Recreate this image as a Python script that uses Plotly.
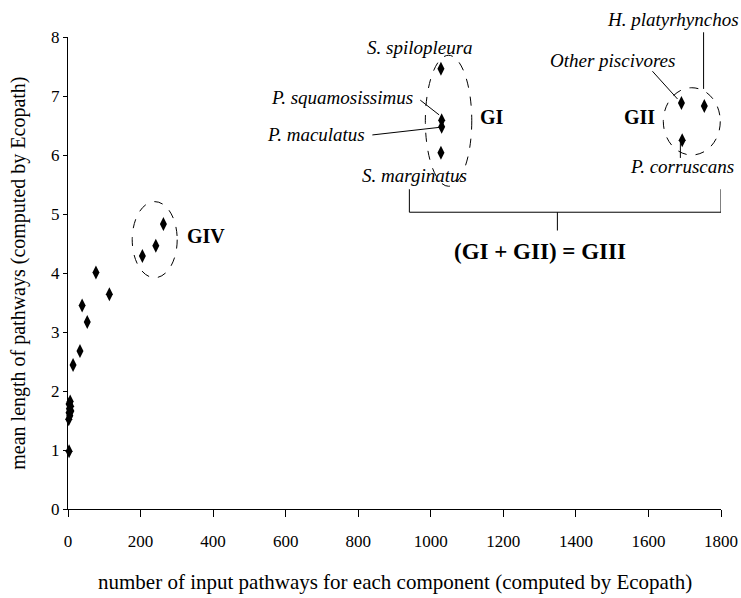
import plotly.graph_objects as go

# ---- data ----
input_pathways = [3, 2, 5, 3, 8, 4, 7, 3, 6, 14, 33, 39, 53, 77, 114, 205, 242, 263,
                  1028, 1030, 1030, 1028, 1691, 1754, 1693]
mean_length = [0.98, 1.52, 1.58, 1.63, 1.66, 1.70, 1.74, 1.78, 1.82, 2.44, 2.68, 3.45,
               3.17, 4.01, 3.64, 4.29, 4.46, 4.83,
               7.46, 6.59, 6.48, 6.04, 6.88, 6.83, 6.25]

x_ticks = [0, 200, 400, 600, 800, 1000, 1200, 1400, 1600, 1800]
y_ticks = [0, 1, 2, 3, 4, 5, 6, 7, 8]

x_title = "number of input pathways for each component (computed by Ecopath)"
y_title = "mean length of pathways (computed by Ecopath)"

# species labels: (text, x, y, xanchor)
species_labels = [
    ("Other piscivores", 1324, 7.61, "left"),
    ("S. spilopleura", 819, 7.83, "left"),
    ("P. squamosissimus", 957, 6.98, "right"),
    ("P. maculatus", 825, 6.34, "right"),
    ("S. marginatus", 806, 5.66, "left"),
    ("P. corruscans", 1545, 5.81, "left"),
]
top_label = ("H. platyrhynchos", 1479, 8.29)
group_labels = [
    ("GI", 1131, 6.64, "left", 20),
    ("GII", 1528, 6.64, "left", 20),
    ("GIV", 323, 4.63, "left", 20),
    ("(GI + GII) = GIII", 1302, 4.37, "center", 23),
]
# dashed group ellipses: x0, x1, y0, y1
group_ellipses = [
    (177, 301, 3.92, 5.21),
    (985, 1113, 5.47, 7.69),
    (1641, 1798, 6.0, 7.14),
]
# leader lines: x0, y0, x1, y1
leader_lines = [
    (971, 6.93, 1023, 6.68),
    (839, 6.34, 1026, 6.47),
    (1611, 7.42, 1680, 6.95),
    (1752, 8.0, 1752, 7.12),
    (1688, 6.20, 1688, 5.95),
    # bracket GI + GII = GIII
    (941, 5.42, 941, 5.03),
    (941, 5.03, 1800, 5.03),
    (1800, 5.03, 1800, 5.42),
    (1349, 5.03, 1349, 4.72),
]

SERIF = "Liberation Serif"
Y_MAX = 8

fig = go.Figure()
fig.add_trace(go.Scatter(
    x=input_pathways, y=mean_length, mode="markers",
    marker=dict(symbol="diamond-tall", size=10, color="black"),
    cliponaxis=False, showlegend=False, hoverinfo="skip",
))

for x0, x1, y0, y1 in group_ellipses:
    fig.add_shape(type="circle", xref="x", yref="y", x0=x0, x1=x1, y0=y0, y1=y1,
                  line=dict(color="black", width=1, dash="dash"))
for x0, y0, x1, y1 in leader_lines:
    fig.add_shape(type="line", xref="x", yref="y", x0=x0, y0=y0, x1=x1, y1=y1,
                  line=dict(color="black", width=1))
# the part of the H. platyrhynchos leader line above the axis top
fig.add_shape(type="line", xref="x", yref="paper", x0=1752, x1=1752,
              y0=1.0, y1=8.08 / Y_MAX, line=dict(color="black", width=1))

for t, x, y, xa in species_labels:
    fig.add_annotation(x=x, y=y, text=f"<i>{t}</i>", showarrow=False, xanchor=xa,
                       yanchor="middle", font=dict(family=SERIF, size=19, color="black"))
t, x, y = top_label
fig.add_annotation(x=x, y=y / Y_MAX, yref="paper", text=f"<i>{t}</i>", showarrow=False,
                   xanchor="left", yanchor="middle",
                   font=dict(family=SERIF, size=19, color="black"))
for t, x, y, xa, fs in group_labels:
    fig.add_annotation(x=x, y=y, text=f"<b>{t}</b>", showarrow=False, xanchor=xa,
                       yanchor="middle", font=dict(family=SERIF, size=fs, color="black"))

# axis titles
fig.add_annotation(xref="paper", yref="paper", x=-0.077, y=0.5, text=y_title,
                   textangle=-90, showarrow=False, xanchor="center", yanchor="middle",
                   font=dict(family=SERIF, size=20, color="black"))
fig.add_annotation(xref="paper", yref="paper", x=0.5, y=0, yshift=-73, text=x_title,
                   showarrow=False, xanchor="center", yanchor="middle",
                   font=dict(family=SERIF, size=21, color="black"))

fig.update_xaxes(range=[0, 1800], tickvals=x_ticks, ticks="outside", ticklen=7,
                 tickcolor="black", showline=True, linecolor="black", linewidth=1,
                 showgrid=False, zeroline=False, automargin=False,
                 ticklabelstandoff=10,
                 tickfont=dict(family=SERIF, size=17, color="black"))
fig.update_yaxes(range=[0, Y_MAX], tickvals=y_ticks, ticks="outside", ticklen=4,
                 tickcolor="black", showline=True, linecolor="black", linewidth=1,
                 showgrid=False, zeroline=False, automargin=False,
                 tickfont=dict(family=SERIF, size=17, color="black"))

fig.update_layout(width=741, height=598, margin=dict(l=68, r=20, t=37, b=89),
                  plot_bgcolor="white", paper_bgcolor="white", hovermode=False)

fig.write_html("out.html", config={"displayModeBar": False},
               post_script="document.body.style.margin='0';")
